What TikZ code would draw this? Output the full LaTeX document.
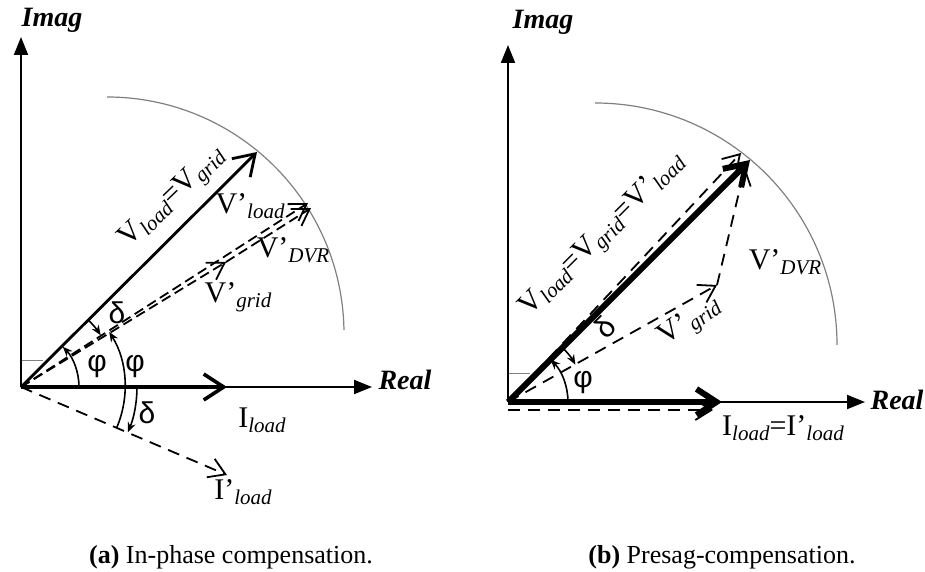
\documentclass[tikz,border=0pt]{standalone}
\usepackage{fontspec}
\setmainfont{Liberation Serif}
\newfontfamily\grkfont{Liberation Sans}
\usetikzlibrary{arrows.meta,calc}

\newcommand{\sub}[1]{\raisebox{-0.35ex}{\fontsize{10.5}{11}\selectfont\itshape #1}}
\newcommand{\grk}[1]{{\grkfont\fontsize{15}{16}\selectfont #1}}

\begin{document}
\begin{tikzpicture}[
  x=0.5pt,y=-0.5pt,
  font=\fontsize{15}{17}\selectfont,
  axis/.style={line width=1pt,-{Triangle[length=9pt,width=7pt]}},
  phasor/.style={line width=1.4pt,-{Straight Barb[length=10pt,width=13pt]}},
  bigphasor/.style={line width=3pt,-{Straight Barb[length=10pt,width=13pt]}},
  dphasor/.style={line width=0.9pt,dash pattern=on 6pt off 4pt,-{Straight Barb[length=8pt,width=10pt]}},
  anglearc/.style={line width=0.8pt,-{Stealth[length=5pt,width=4pt]}},
  locus/.style={line width=0.6pt,gray},
  refmark/.style={line width=0.5pt,gray},
  lbl/.style={inner sep=1pt},
  axlbl/.style={inner sep=1pt,font=\fontsize{14}{16}\selectfont\bfseries\itshape},
  caption/.style={font=\fontsize{13}{15}\selectfont},
]
\useasboundingbox (0,0) rectangle (925,572);

% (a) in-phase compensation
\coordinate (Oa) at (21,387);
\coordinate (ImA) at (21,37);
\coordinate (ReA) at (372,387);
\coordinate (Va) at (257,152);
\coordinate (Lpa) at (308,203);
\coordinate (Gpa) at (226,262);
\coordinate (Lpb) at (311,208);
\coordinate (Ia) at (227,387);
\coordinate (Ipa) at (227,475);
\coordinate (Ca) at (107,334);

\draw[locus] ($(Ca)+(-90:237)$) arc[start angle=-90,end angle=-1,radius=237];
\draw[refmark] (21,360) -- (43,360);
\draw[axis] (Oa) -- (ImA);
\draw[axis] (Oa) -- (ReA);
\draw[dphasor,dash pattern=on 5pt off 2.5pt] (Oa) -- (Lpa);
\draw[dphasor,dash pattern=on 5pt off 2.5pt] (Oa) -- (Gpa);
\draw[dphasor,dash pattern=on 5pt off 2.5pt] (Gpa) -- (Lpb);
\draw[dphasor] (Oa) -- (Ipa);
\draw[phasor] (Oa) -- (Va);
\draw[phasor,line width=1.8pt] (Oa) -- (Ia);

\draw[anglearc] ($(Oa)+(0:58)$) arc[start angle=0,end angle=-44,radius=58];
\draw[anglearc] ($(Oa)+(-45:95)$) arc[start angle=-45,end angle=-33,radius=95];
\draw[anglearc] ($(Oa)+(23:104)$) arc[start angle=23,end angle=-32,radius=104];
\draw[anglearc] ($(Oa)+(0:116)$) arc[start angle=0,end angle=23,radius=116];

\node[axlbl] (imA) at (52,20) {Imag};
\node[axlbl] (reA) at (405,380) {Real};
\node[lbl,rotate=44] (vA) at (173,198) {V\sub{load}=V\sub{grid}};
\node[lbl] (vlpA) at (250,206) {V'\sub{load}};
\node[lbl] (vdA) at (293,250) {V'\sub{DVR}};
\node[lbl] (vgA) at (238,297) {V'\sub{grid}};
\node[lbl] (iA) at (262,420) {I\sub{load}};
\node[lbl] (ipA) at (243,492) {I'\sub{load}};
\node[lbl] (phA1) at (97,367) {\grk{φ}};
\node[lbl] (phA2) at (135,367) {\grk{φ}};
\node[lbl] (dA1) at (117,313) {\grk{δ}};
\node[lbl] (dA2) at (147,413) {\grk{δ}};
\node[caption] (capA) at (231,557) {\textbf{(a)} In-phase compensation.};

% (b) presag compensation
\coordinate (Ob) at (508,402);
\coordinate (ImB) at (508,45);
\coordinate (ReB) at (865,402);
\coordinate (Vb) at (750,160);
\coordinate (Vdb) at (741,153);
\coordinate (Gb) at (717,285);
\coordinate (Db) at (745,167);
\coordinate (Ib) at (722,402);
\coordinate (Obd) at (508,410);
\coordinate (Idb) at (713,410);
\coordinate (Cb) at (595,345);

\draw[locus] ($(Cb)+(-90:242)$) arc[start angle=-90,end angle=0,radius=242];
\draw[refmark] (508,373) -- (530,373);
\draw[axis] (Ob) -- (ImB);
\draw[axis] (Ob) -- (ReB);
\draw[dphasor] (Ob) -- (Vdb);
\draw[dphasor] (Ob) -- (Gb);
\draw[dphasor] (Gb) -- (Db);
\draw[dphasor] (Obd) -- (Idb);
\draw[bigphasor] (Ob) -- (Vb);
\draw[bigphasor] (Ob) -- (Ib);

\draw[anglearc] ($(Ob)+(0:60)$) arc[start angle=0,end angle=-45,radius=60];
\draw[anglearc] ($(Ob)+(-46:77)$) arc[start angle=-46,end angle=-29,radius=77];

\node[axlbl] (imB) at (543,22) {Imag};
\node[axlbl] (reB) at (897,400) {Real};
\node[lbl,rotate=45] (vB) at (603,235) {V\sub{load}=V\sub{grid}=V'\sub{load}};
\node[lbl,rotate=35] (vgB) at (690,322) {V'\sub{grid}};
\node[lbl] (vdB) at (785,262) {V'\sub{DVR}};
\node[lbl] (iB) at (783,428) {I\sub{load}=I'\sub{load}};
\node[lbl] (phB) at (583,383) {\grk{φ}};
\node[lbl,rotate=45] (dB) at (605,327) {\grk{δ}};
\node[caption] (capB) at (722,557) {\textbf{(b)} Presag-compensation.};
\end{tikzpicture}
\end{document}
